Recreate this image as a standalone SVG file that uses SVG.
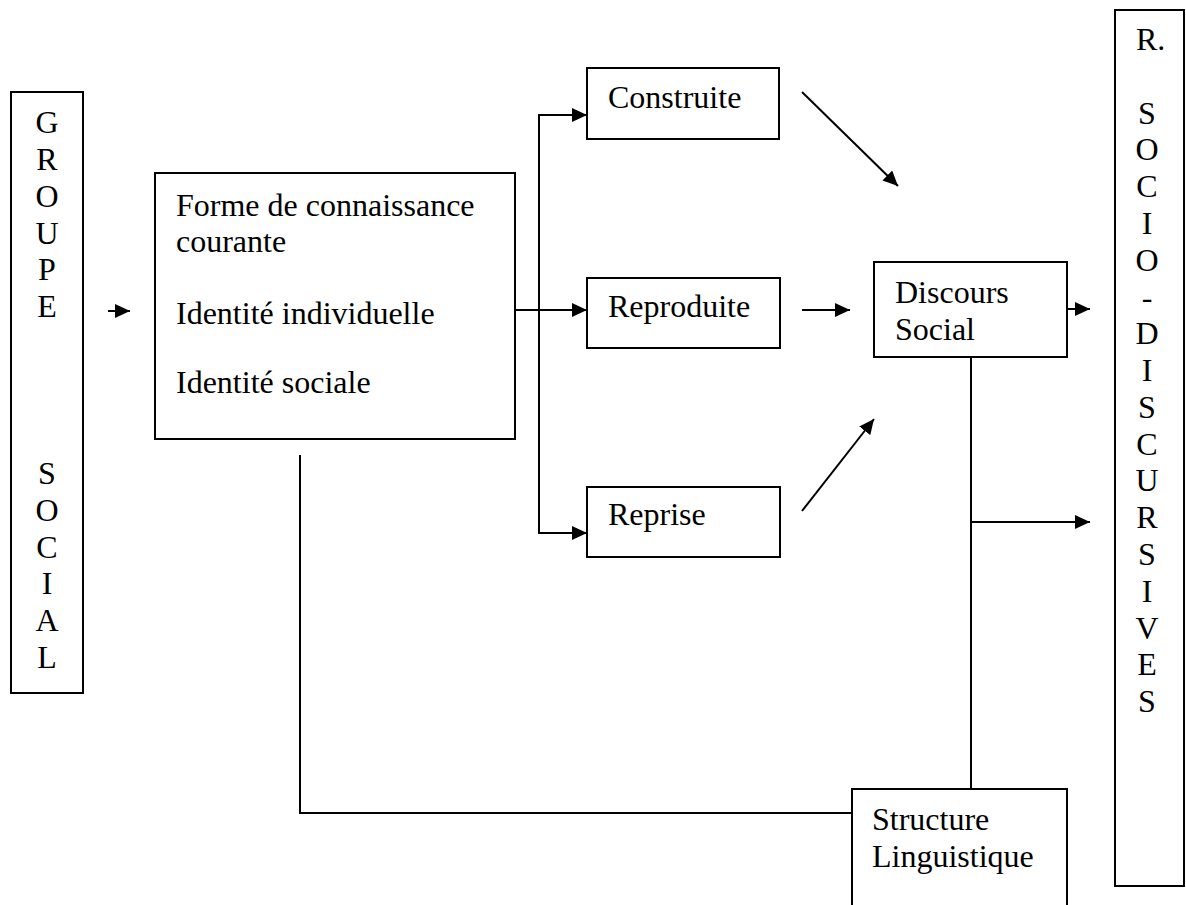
<svg xmlns="http://www.w3.org/2000/svg" width="1186" height="905" viewBox="0 0 1186 905">
<defs>
<style>
.box{fill:#fff;stroke:#000;stroke-width:2}
.t{font-family:"Liberation Serif","Times New Roman",serif;font-size:32px;fill:#000}
.c{text-anchor:middle}
.ln{stroke:#000;stroke-width:2;fill:none}
</style>
<marker id="ah" markerWidth="16" markerHeight="14" refX="15" refY="7" orient="auto" markerUnits="userSpaceOnUse">
<path d="M0,0 L15,7 L0,14 Z" fill="#000"/>
</marker>
</defs>
<rect width="1186" height="905" fill="#fff"/>
<g id="connectors">
<line class="ln" x1="108" y1="311" x2="130" y2="311" marker-end="url(#ah)"/>
<line class="ln" x1="515" y1="310" x2="587" y2="310" marker-end="url(#ah)"/>
<polyline class="ln" points="587,115 539,115 539,533 587,533"/>
<line class="ln" x1="539" y1="115" x2="587" y2="115" marker-end="url(#ah)"/>
<line class="ln" x1="539" y1="533" x2="587" y2="533" marker-end="url(#ah)"/>
<line class="ln" x1="802" y1="92" x2="898" y2="186" marker-end="url(#ah)"/>
<line class="ln" x1="802" y1="310" x2="850" y2="310" marker-end="url(#ah)"/>
<line class="ln" x1="802" y1="511" x2="874" y2="419" marker-end="url(#ah)"/>
<line class="ln" x1="1067" y1="309" x2="1090" y2="309" marker-end="url(#ah)"/>
<line class="ln" x1="971" y1="357" x2="971" y2="789"/>
<line class="ln" x1="971" y1="522" x2="1090" y2="522" marker-end="url(#ah)"/>
<polyline class="ln" points="300,455 300,813 852,813"/>
</g>
<g id="groupe-social">
<rect class="box" x="11" y="92" width="72" height="601"/>
<text class="t c" x="47" y="133">G</text>
<text class="t c" x="47" y="170">R</text>
<text class="t c" x="47" y="207">O</text>
<text class="t c" x="47" y="244">U</text>
<text class="t c" x="47" y="280">P</text>
<text class="t c" x="47" y="317">E</text>
<text class="t c" x="47" y="484">S</text>
<text class="t c" x="47" y="521">O</text>
<text class="t c" x="47" y="558">C</text>
<text class="t c" x="47" y="594">I</text>
<text class="t c" x="47" y="631">A</text>
<text class="t c" x="47" y="668">L</text>
</g>
<g id="connaissance">
<rect class="box" x="155" y="173" width="360" height="266"/>
<text class="t" x="176" y="216">Forme de connaissance</text>
<text class="t" x="176" y="252">courante</text>
<text class="t" x="176" y="324">Identité individuelle</text>
<text class="t" x="176" y="393">Identité sociale</text>
</g>
<g id="construite">
<rect class="box" x="587" y="68" width="192" height="71"/>
<text class="t" x="608" y="108">Construite</text>
</g>
<g id="reproduite">
<rect class="box" x="587" y="278" width="193" height="70"/>
<text class="t" x="608" y="317">Reproduite</text>
</g>
<g id="reprise">
<rect class="box" x="587" y="487" width="193" height="70"/>
<text class="t" x="608" y="525">Reprise</text>
</g>
<g id="discours">
<rect class="box" x="874" y="262" width="193" height="95"/>
<text class="t" x="895" y="303">Discours</text>
<text class="t" x="895" y="340">Social</text>
</g>
<g id="structure">
<path class="ln" d="M852,906 L852,789 L1067,789 L1067,906"/>
<text class="t" x="872" y="830">Structure</text>
<text class="t" x="872" y="867">Linguistique</text>
</g>
<g id="r-socio">
<rect class="box" x="1115" y="10" width="69" height="876"/>
<text class="t" x="1136" y="50">R.</text>
<text class="t c" x="1147" y="124">S</text>
<text class="t c" x="1147" y="160">O</text>
<text class="t c" x="1147" y="197">C</text>
<text class="t c" x="1147" y="234">I</text>
<text class="t c" x="1147" y="271">O</text>
<text class="t c" x="1147" y="308">-</text>
<text class="t c" x="1147" y="344">D</text>
<text class="t c" x="1147" y="381">I</text>
<text class="t c" x="1147" y="418">S</text>
<text class="t c" x="1147" y="455">C</text>
<text class="t c" x="1147" y="491">U</text>
<text class="t c" x="1147" y="528">R</text>
<text class="t c" x="1147" y="565">S</text>
<text class="t c" x="1147" y="602">I</text>
<text class="t c" x="1147" y="639">V</text>
<text class="t c" x="1147" y="675">E</text>
<text class="t c" x="1147" y="712">S</text>
</g>
</svg>
